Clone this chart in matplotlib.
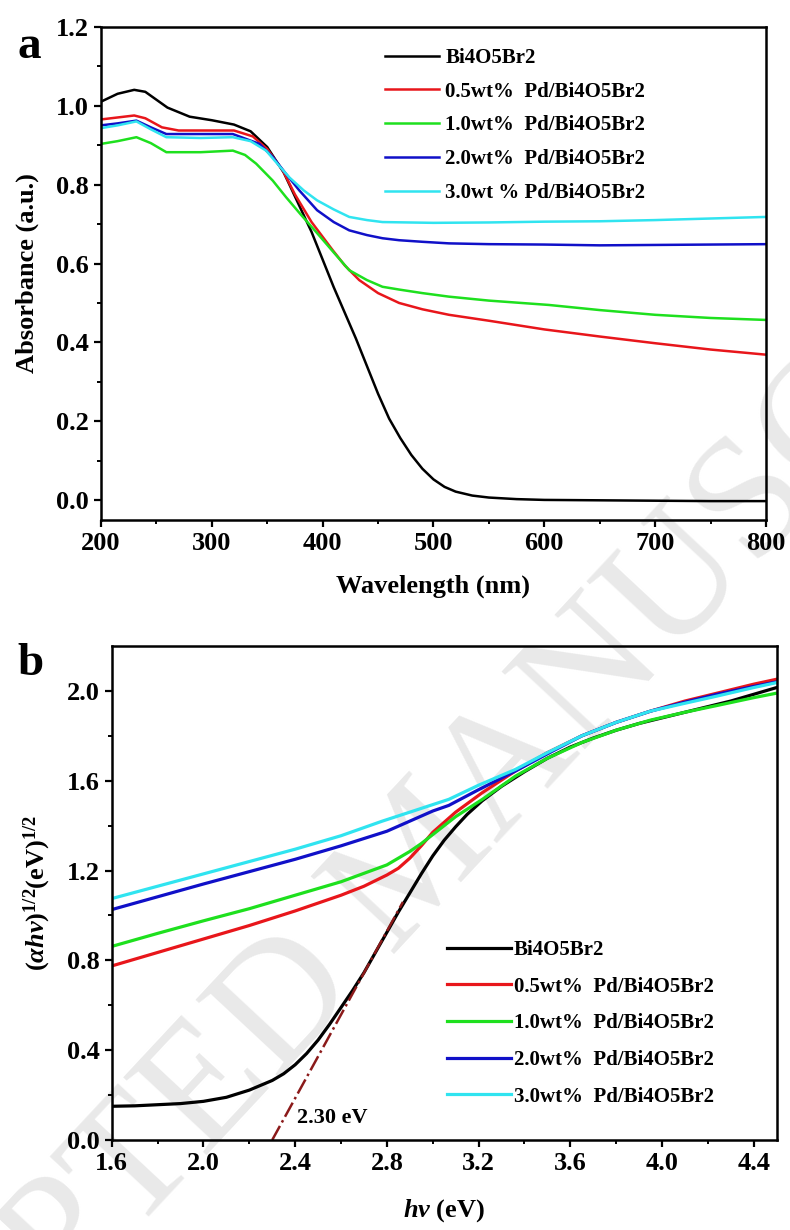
import matplotlib
matplotlib.use('Agg')
import matplotlib.pyplot as plt
import numpy as np

plt.rcParams['font.family'] = 'Liberation Serif'
plt.rcParams['font.weight'] = 'bold'
plt.rcParams['axes.labelweight'] = 'bold'
plt.rcParams['mathtext.fontset'] = 'custom'
plt.rcParams['mathtext.rm'] = 'Liberation Serif:bold'
plt.rcParams['mathtext.it'] = 'Liberation Serif:italic:bold'
plt.rcParams['mathtext.bf'] = 'Liberation Serif:bold'

labels_a = ['Bi4O5Br2', '0.5wt%  Pd/Bi4O5Br2', '1.0wt%  Pd/Bi4O5Br2',
            '2.0wt%  Pd/Bi4O5Br2', '3.0wt % Pd/Bi4O5Br2']
labels_b = ['Bi4O5Br2', '0.5wt%  Pd/Bi4O5Br2', '1.0wt%  Pd/Bi4O5Br2',
            '2.0wt%  Pd/Bi4O5Br2', '3.0wt%  Pd/Bi4O5Br2']
colors = ['#000000', '#e8161b', '#1ee01e', '#1010c8', '#30e4f0']

# (a) absorbance vs wavelength
wl_black = [200, 215, 230, 240, 260, 280, 300, 320, 335, 350, 365, 380, 390, 400, 410, 420,
            430, 440, 450, 460, 470, 480, 490, 500, 510, 520, 535, 550, 575, 600, 650, 700, 750, 800]
ab_black = [1.01, 1.03, 1.04, 1.035, 0.995, 0.972, 0.963, 0.952, 0.935, 0.895, 0.83, 0.74, 0.68, 0.61,
            0.54, 0.475, 0.41, 0.34, 0.27, 0.207, 0.158, 0.115, 0.08, 0.053, 0.034, 0.022, 0.012, 0.007,
            0.003, 0.001, 0.0, -0.001, -0.002, -0.002]
wl_red = [200, 215, 230, 240, 255, 270, 300, 320, 337, 350, 364, 375, 390, 409, 420, 433, 450, 469,
          490, 514, 550, 600, 650, 700, 750, 800]
ab_red = [0.965, 0.97, 0.975, 0.968, 0.945, 0.937, 0.937, 0.937, 0.922, 0.89, 0.836, 0.775, 0.705,
          0.634, 0.595, 0.558, 0.525, 0.50, 0.484, 0.47, 0.455, 0.433, 0.415, 0.398, 0.382, 0.369]
wl_green = [200, 215, 232, 245, 259, 290, 319, 330, 340, 355, 367, 380, 395, 410, 424, 440, 454, 469,
            490, 514, 550, 604, 650, 700, 750, 800]
ab_green = [0.903, 0.91, 0.92, 0.905, 0.882, 0.882, 0.886, 0.875, 0.853, 0.81, 0.768, 0.725, 0.677,
            0.628, 0.583, 0.558, 0.541, 0.534, 0.525, 0.516, 0.506, 0.495, 0.482, 0.47, 0.462, 0.457]
wl_blue = [200, 215, 232, 245, 259, 290, 319, 343, 355, 367, 379, 395, 410, 424, 440, 454, 469, 490,
           514, 550, 600, 650, 700, 750, 800]
ab_blue = [0.95, 0.955, 0.962, 0.945, 0.928, 0.928, 0.928, 0.903, 0.87, 0.827, 0.785, 0.735, 0.705,
           0.684, 0.672, 0.664, 0.659, 0.655, 0.651, 0.649, 0.648, 0.646, 0.647, 0.648, 0.649]
wl_cyan = [200, 215, 232, 245, 259, 290, 319, 335, 349, 360, 370, 383, 395, 410, 424, 440, 454, 500,
           550, 600, 650, 700, 750, 800]
ab_cyan = [0.943, 0.95, 0.96, 0.94, 0.92, 0.918, 0.92, 0.91, 0.886, 0.85, 0.818, 0.785, 0.76, 0.737,
           0.718, 0.71, 0.705, 0.703, 0.704, 0.706, 0.707, 0.71, 0.714, 0.718]

# (b) Tauc plot
hv_black = [1.6, 1.7, 1.8, 1.9, 2.0, 2.1, 2.2, 2.3, 2.35, 2.4, 2.45, 2.5, 2.55, 2.6, 2.65, 2.7, 2.75,
            2.8, 2.85, 2.9, 2.95, 3.0, 3.05, 3.1, 3.15, 3.215, 3.3, 3.4, 3.5, 3.6, 3.7, 3.8, 3.9, 4.0,
            4.1, 4.2, 4.3, 4.4, 4.5]
t_black = [0.15, 0.152, 0.157, 0.162, 0.172, 0.19, 0.222, 0.265, 0.295, 0.335, 0.385, 0.445, 0.515,
           0.59, 0.665, 0.745, 0.835, 0.925, 1.015, 1.10, 1.185, 1.265, 1.335, 1.395, 1.45, 1.51, 1.575,
           1.64, 1.70, 1.75, 1.79, 1.825, 1.855, 1.88, 1.905, 1.93, 1.955, 1.985, 2.015]
hv_red = [1.6, 1.8, 2.0, 2.2, 2.4, 2.6, 2.7, 2.8, 2.85, 2.9, 2.95, 3.0, 3.1, 3.215, 3.36, 3.5, 3.65,
          3.8, 3.95, 4.1, 4.24, 4.4, 4.5]
t_red = [0.775, 0.835, 0.895, 0.955, 1.02, 1.09, 1.13, 1.18, 1.21, 1.255, 1.31, 1.37, 1.46, 1.546,
         1.643, 1.725, 1.80, 1.86, 1.91, 1.955, 1.99, 2.03, 2.052]
hv_green = [1.6, 1.8, 2.0, 2.2, 2.4, 2.6, 2.8, 2.9, 2.95, 3.0, 3.1, 3.215, 3.36, 3.5, 3.65, 3.8, 3.95,
            4.1, 4.24, 4.4, 4.5]
t_green = [0.862, 0.92, 0.976, 1.03, 1.09, 1.15, 1.225, 1.285, 1.32, 1.36, 1.44, 1.516, 1.62, 1.70,
           1.77, 1.825, 1.87, 1.905, 1.935, 1.97, 1.99]
hv_blue = [1.6, 1.8, 2.0, 2.2, 2.4, 2.6, 2.8, 2.9, 3.0, 3.07, 3.2, 3.36, 3.5, 3.65, 3.8, 3.95, 4.1,
           4.24, 4.4, 4.5]
t_blue = [1.026, 1.083, 1.14, 1.195, 1.25, 1.31, 1.375, 1.42, 1.465, 1.49, 1.56, 1.643, 1.72, 1.80,
          1.86, 1.91, 1.95, 1.985, 2.02, 2.04]
hv_cyan = [1.6, 1.8, 2.0, 2.2, 2.4, 2.6, 2.78, 2.9, 3.07, 3.2, 3.36, 3.5, 3.65, 3.8, 3.95, 4.1, 4.24,
           4.4, 4.5]
t_cyan = [1.075, 1.13, 1.185, 1.24, 1.295, 1.355, 1.42, 1.46, 1.517, 1.58, 1.65, 1.725, 1.80, 1.86,
          1.91, 1.945, 1.977, 2.015, 2.037]

tangent_hv = [2.30, 2.87]
tangent_y = [0.0, 1.06]
band_gap_text = '2.30 eV'

fig = plt.figure(figsize=(7.9, 12.3), dpi=100)
ax1 = fig.add_axes([0.1278, 0.5772, 0.8418, 0.4011])
ax2 = fig.add_axes([0.1414, 0.0732, 0.8418, 0.4016])

# faint watermark, drawn under the axes
fig.text(0.533, 0.298, 'ACCEPTED MANUSCRIPT', fontsize=125, fontweight='normal', color='#e9e9e9',
         rotation=47, ha='center', va='center', zorder=-1)

for ax in (ax1, ax2):
    ax.patch.set_alpha(0)
    for s in ax.spines.values():
        s.set_linewidth(1.8)
    ax.tick_params(which='major', direction='out', length=5, width=1.6, labelsize=19,
                   top=False, right=False)
    ax.tick_params(which='minor', direction='out', length=3, width=1.4, top=False, right=False)

series_a = [(wl_black, ab_black), (wl_red, ab_red), (wl_green, ab_green),
            (wl_blue, ab_blue), (wl_cyan, ab_cyan)]
for (x, y), c, lab in zip(series_a, colors, labels_a):
    ax1.plot(x, y, color=c, lw=1.8, label=lab)
ax1.set_xlim(200, 800)
ax1.set_ylim(-0.05, 1.2)
ax1.set_xticks(np.arange(200, 801, 100))
ax1.set_xticks(np.arange(250, 800, 100), minor=True)
ax1.set_yticks(np.arange(0, 1.21, 0.2))
ax1.set_yticks(np.arange(0.1, 1.2, 0.2), minor=True)
ax1.yaxis.set_major_formatter(matplotlib.ticker.FormatStrFormatter('%.1f'))
ax1.set_xlabel('Wavelength (nm)', fontsize=19, labelpad=14)
ax1.set_ylabel('Absorbance (a.u.)', fontsize=19, labelpad=12)
ax1.legend(loc='upper left', bbox_to_anchor=(0.427, 0.957), frameon=False, fontsize=15,
           handlelength=2.6, handletextpad=0.3, labelspacing=0.66, borderpad=0, borderaxespad=0)
fig.text(0.022, 0.962, 'a', fontsize=34, fontweight='bold', ha='left', va='center')

series_b = [(hv_black, t_black), (hv_red, t_red), (hv_green, t_green),
            (hv_blue, t_blue), (hv_cyan, t_cyan)]
for (x, y), c, lab in zip(series_b, colors, labels_b):
    ax2.plot(x, y, color=c, lw=2.3, label=lab)
ax2.plot(tangent_hv, tangent_y, color='#8b1a1a', lw=1.8, ls='-.')
ax2.text(2.41, 0.1, band_gap_text, fontsize=16, ha='left', va='center')
ax2.set_xlim(1.6, 4.5)
ax2.set_ylim(0, 2.2)
ax2.set_xticks(np.arange(1.6, 4.41, 0.4))
ax2.set_xticks(np.arange(1.8, 4.5, 0.4), minor=True)
ax2.set_yticks(np.arange(0, 2.01, 0.4))
ax2.set_yticks(np.arange(0.2, 2.2, 0.4), minor=True)
ax2.xaxis.set_major_formatter(matplotlib.ticker.FormatStrFormatter('%.1f'))
ax2.yaxis.set_major_formatter(matplotlib.ticker.FormatStrFormatter('%.1f'))
ax2.set_xlabel(r'$hv$ (eV)', fontsize=19, labelpad=16)
ax2.set_ylabel(r'$(\alpha hv)^{\mathit{1/2}}$(eV)$^{\mathit{1/2}}$', fontsize=19, labelpad=10)
ax2.legend(loc='upper left', bbox_to_anchor=(0.504, 0.405), frameon=False, fontsize=15,
           handlelength=3.1, handletextpad=0.1, labelspacing=0.8, borderpad=0, borderaxespad=0)
fig.text(0.022, 0.46, 'b', fontsize=34, fontweight='bold', ha='left', va='center')

fig.savefig('out.png', dpi=100)
